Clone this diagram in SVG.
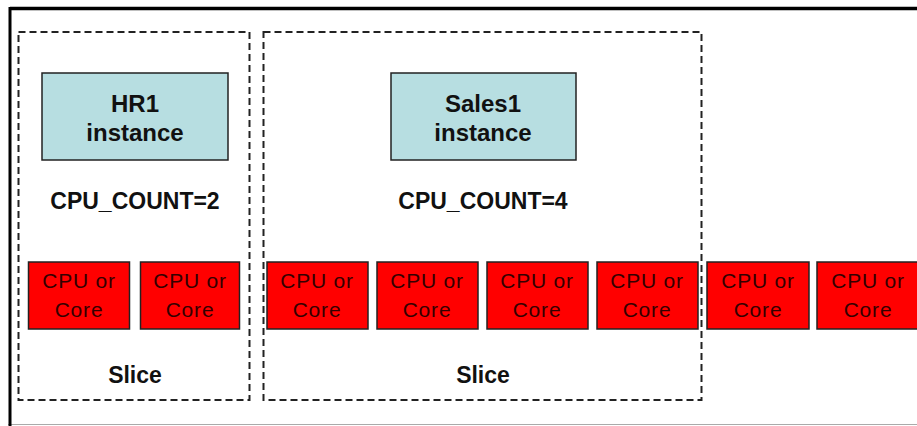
<svg xmlns="http://www.w3.org/2000/svg" width="917" height="426" viewBox="0 0 917 426">
<style>
.slice{fill:none;stroke:#222;stroke-width:2;stroke-dasharray:7,4}
.inst{fill:#B7DEE1;stroke:#222;stroke-width:1.5}
.cpu{fill:#FF0000;stroke:#222;stroke-width:1.5}
.b{font-family:"Liberation Sans",Arial,sans-serif;font-weight:bold;fill:#111;text-anchor:middle}
.c{font-family:"Liberation Sans",Arial,sans-serif;font-size:21px;letter-spacing:0.8px;fill:#330000;text-anchor:middle}
</style>
<rect width="917" height="426" fill="#fff"/>
<line x1="8" y1="424.5" x2="917" y2="424.5" stroke="#aaa" stroke-width="1"/>
<line x1="10" y1="8.5" x2="917" y2="8.5" stroke="#000" stroke-width="3.5"/>
<line x1="10" y1="7" x2="10" y2="426" stroke="#000" stroke-width="3"/>
<g id="slice1"><rect class="slice" x="18.5" y="32" width="231" height="368"/><text class="b" x="135" y="383" font-size="23">Slice</text></g>
<g id="slice2"><rect class="slice" x="263.5" y="32" width="438" height="368"/><text class="b" x="483" y="383" font-size="23">Slice</text></g>
<g id="hr1"><rect class="inst" x="42" y="73" width="186" height="87"/><text class="b" font-size="24" x="135" y="112">HR1</text><text class="b" font-size="24" x="135" y="141">instance</text></g>
<g id="sales1"><rect class="inst" x="391" y="73" width="185" height="87"/><text class="b" font-size="24" x="483" y="112">Sales1</text><text class="b" font-size="24" x="483" y="141">instance</text></g>
<g id="count2"><text class="b" font-size="23" x="135" y="209">CPU_COUNT=2</text></g>
<g id="count4"><text class="b" font-size="23" x="483" y="209">CPU_COUNT=4</text></g>
<g id="cpu1"><rect class="cpu" x="28.5" y="262" width="101" height="67"/><text class="c" x="79" y="288">CPU or</text><text class="c" x="79" y="317">Core</text></g>
<g id="cpu2"><rect class="cpu" x="140.5" y="262" width="99" height="67"/><text class="c" x="190" y="288">CPU or</text><text class="c" x="190" y="317">Core</text></g>
<g id="cpu3"><rect class="cpu" x="267" y="262" width="101" height="67"/><text class="c" x="317" y="288">CPU or</text><text class="c" x="317" y="317">Core</text></g>
<g id="cpu4"><rect class="cpu" x="377" y="262" width="101" height="67"/><text class="c" x="427" y="288">CPU or</text><text class="c" x="427" y="317">Core</text></g>
<g id="cpu5"><rect class="cpu" x="487" y="262" width="101" height="67"/><text class="c" x="537" y="288">CPU or</text><text class="c" x="537" y="317">Core</text></g>
<g id="cpu6"><rect class="cpu" x="597" y="262" width="101" height="67"/><text class="c" x="647" y="288">CPU or</text><text class="c" x="647" y="317">Core</text></g>
<g id="cpu7"><rect class="cpu" x="707" y="262" width="102" height="67"/><text class="c" x="758" y="288">CPU or</text><text class="c" x="758" y="317">Core</text></g>
<g id="cpu8"><rect class="cpu" x="817" y="262" width="102" height="67"/><text class="c" x="868" y="288">CPU or</text><text class="c" x="868" y="317">Core</text></g>
<g id="connectors"></g>
</svg>
